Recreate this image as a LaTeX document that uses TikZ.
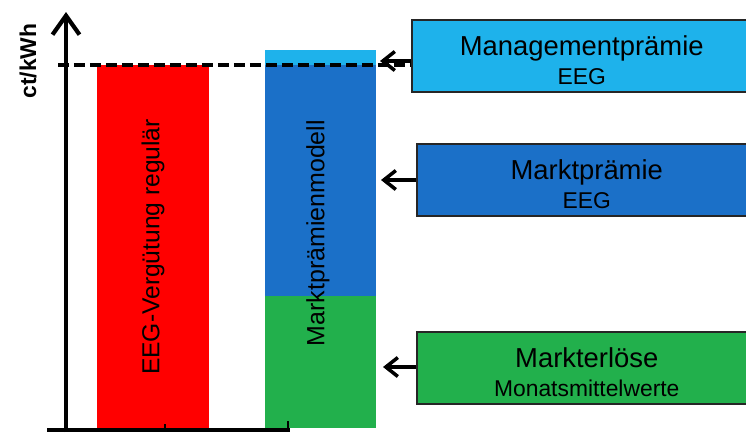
\documentclass[tikz,border=0pt]{standalone}
\usepackage{fontspec}
\setmainfont{Liberation Sans}
\usetikzlibrary{arrows.meta}
\definecolor{mgmtblue}{RGB}{30,178,235}
\definecolor{mpblue}{RGB}{27,112,200}
\definecolor{megreen}{RGB}{34,176,76}
\definecolor{eegred}{RGB}{255,0,0}
\begin{document}
\begin{tikzpicture}[
        x=0.02cm, y=-0.02cm,
        infobox/.style={
            draw=black!85,
            line width=0.9pt,
            anchor=west,
            minimum width=6.8cm,
            minimum height=1.44cm,
            inner sep=0pt,
            align=center
        },
        pointer/.style={-{Straight Barb[length=2.4mm,width=3.8mm]}, line width=2pt},
        axisline/.style={line width=2.4pt},
        priceline/.style={line width=2pt, dash pattern=on 0.22cm off 0.1cm},
        bartext/.style={rotate=90, font=\fontsize{14}{16}\selectfont},
        every node/.style={font=\fontsize{15.6}{16}\selectfont}
    ]

    \useasboundingbox (0,0) rectangle (746,434);

    % bars
    \fill[eegred] (97,65) rectangle (209,428);
    \fill[megreen] (265,296) rectangle (376,428);
    \fill[mpblue] (265,65) rectangle (376,296);
    \fill[mgmtblue] (265,50) rectangle (376,65);

    \node[bartext] (eegtext) at (153,247) {EEG-Vergütung regulär};
    \node[bartext, font=\fontsize{14.2}{16}\selectfont] (mptext) at (318,233)
        {Marktprämienmodell};

    % axes
    \draw[axisline, -{Straight Barb[length=3.8mm,width=5.4mm]}] (66,432) -- (66,12);
    \draw[axisline] (47,430) -- (290,430);
    \draw[line width=1.2pt] (165,430) -- (165,424);
    \draw[line width=1.2pt] (288,430) -- (288,421);

    \node[rotate=90, font=\bfseries\fontsize{13}{15}\selectfont] (unit) at (28,61)
        {ct/kWh};

    \draw[priceline] (58,65) -- (414,65);

    % boxes
    \node[infobox, fill=mgmtblue] (mgmt) at (411,56)
        {\rule{0pt}{16pt}Managementprämie\\ \fontsize{13}{16}\selectfont EEG};
    \node[infobox, fill=mpblue] (mp) at (416,180)
        {\rule{0pt}{16pt}Marktprämie\\ \fontsize{13}{16}\selectfont EEG};
    \node[infobox, fill=megreen] (me) at (416,368)
        {\rule{0pt}{16pt}Markterlöse\\ \fontsize{13}{16}\selectfont Monatsmittelwerte};

    \coordinate (mgmtend) at (380,61);
    \coordinate (mpend) at (381,180);
    \coordinate (meend) at (383,367);

    \draw[pointer] (mgmt.west |- mgmtend) -- (mgmtend);
    \draw[pointer] (mp.west) -- (mpend);
    \draw[pointer] (me.west |- meend) -- (meend);

    \end{tikzpicture}
\end{document}
